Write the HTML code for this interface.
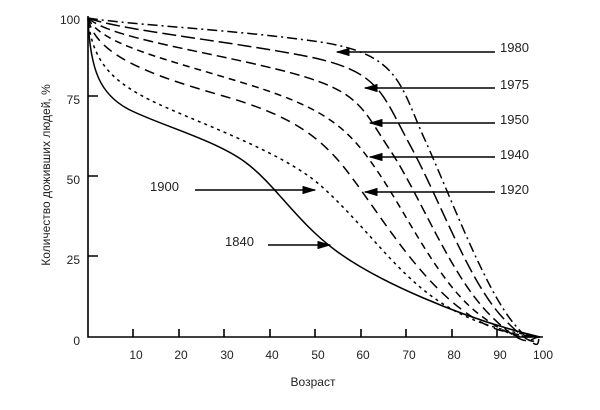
<!DOCTYPE html>
<html><head><meta charset="utf-8"><style>
body{margin:0;background:#fff}
svg text{font-family:"Liberation Sans",sans-serif;fill:#222}
</style></head><body>
<svg width="600" height="405" viewBox="0 0 600 405" xmlns="http://www.w3.org/2000/svg">
<defs><marker id="a" markerWidth="10" markerHeight="6" refX="9" refY="3" orient="auto"><path d="M0,0 L10,3 L0,6 Z" fill="#000"/></marker></defs>
<g stroke="#000" stroke-width="1.6" fill="none">
<path d="M88,16 V337 H543"/>
<path d="M88,96 h10 M88,176 h10 M88,256 h10"/>
<path d="M133,337 v-8 M179,337 v-8 M224,337 v-8 M270,337 v-8 M315,337 v-8 M361,337 v-8 M406,337 v-8 M452,337 v-8 M497,337 v-8"/>
</g>
<g fill="none" stroke="#000" stroke-width="1.5">
<path d="M88,18 C90,70 100,95 130,110 S215,140 245,162 S295,220 335,250 S460,318 540,337"/>
<path stroke-dasharray="3,4" d="M88,18 C92,60 110,80 150,100 S280,150 320,185 S390,265 430,295 S510,332 540,337"/>
<path stroke-dasharray="10,6" d="M88,18 C95,55 150,75 220,95 S320,135 350,175 S410,265 450,300 S515,334 540,337"/>
<path stroke-dasharray="7,5" d="M88,18 C100,45 170,60 250,85 S350,130 380,175 S440,285 480,315 S525,335 540,337"/>
<path stroke-dasharray="10,5" d="M88,18 C110,38 200,50 280,70 S360,105 390,150 S450,275 490,315 S530,336 540,337"/>
<path stroke-dasharray="14,5" d="M88,18 C120,30 220,40 300,55 S380,90 410,145 S470,285 505,320 S532,336 540,337"/>
<path stroke-dasharray="10,4,2,4" d="M88,18 C130,25 240,30 320,42 S400,85 425,140 S485,290 515,325 S536,337 540,337"/>
</g>
<g stroke="#000" stroke-width="1.4" marker-end="url(#a)">
<line x1="495" y1="52" x2="337" y2="52"/>
<line x1="495" y1="88" x2="365" y2="88"/>
<line x1="495" y1="123" x2="370" y2="123"/>
<line x1="495" y1="157" x2="370" y2="157"/>
<line x1="495" y1="192" x2="365" y2="192"/>
<line x1="195" y1="190" x2="315" y2="190"/>
<line x1="268" y1="245" x2="330" y2="245"/>
</g>
<g font-size="13">
<text x="500" y="52">1980</text>
<text x="500" y="89">1975</text>
<text x="500" y="124">1950</text>
<text x="500" y="159">1940</text>
<text x="500" y="194">1920</text>
<text x="150" y="191">1900</text>
<text x="225" y="246">1840</text>
</g>
<g font-size="12" text-anchor="end">
<text x="80" y="24">100</text><text x="80" y="104">75</text><text x="80" y="184">50</text><text x="80" y="264">25</text><text x="80" y="345">0</text>
</g>
<g font-size="12" text-anchor="middle">
<text x="136" y="359">10</text><text x="181" y="359">20</text><text x="227" y="359">30</text><text x="272" y="359">40</text><text x="318" y="359">50</text><text x="363" y="359">60</text><text x="409" y="359">70</text><text x="454" y="359">80</text><text x="500" y="359">90</text><text x="543" y="359">100</text>
<text x="313" y="386">Возраст</text>
<text transform="translate(50,175) rotate(-90)">Количество доживших людей, %</text>
</g>
</svg>
</body></html>
